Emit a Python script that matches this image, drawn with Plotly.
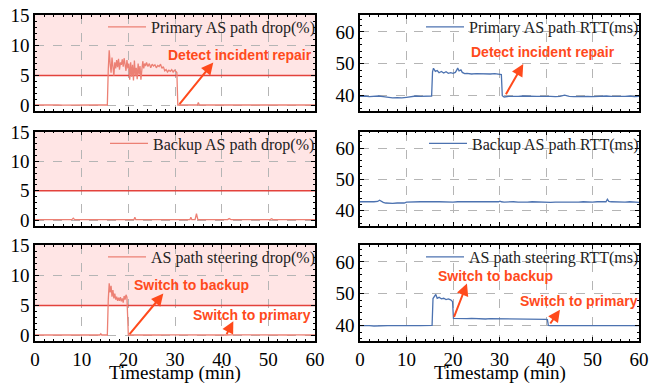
import plotly.graph_objects as go

W, H = 657, 383
SERIF = "Liberation Serif, Times New Roman, serif"
SANS = "Liberation Sans, Arial, sans-serif"
DROP_COLOR = "#EC8074"
RTT_COLOR = "#4C72B0"
ANNOT_COLOR = "#FF4A1C"
THRESH_COLOR = "#E3423C"
THRESHOLD = 5
T_RANGE = [0, 60]
X_TITLE = "Timestamp (min)"

# ---------------- data (minutes, values) ----------------
# Primary AS path drop (%)
pd_t = (list(range(0, 16)) + [15.5] +
        [15.7, 15.9, 16.1, 16.3, 16.5, 16.7, 16.9, 17.1, 17.3, 17.5, 17.7, 17.9, 18.1, 18.3,
         18.5, 18.7, 18.9, 19.1, 19.3, 19.5, 19.7, 19.9, 20.1, 20.3, 20.5, 20.7, 20.9, 21.1,
         21.3, 21.5, 21.7, 21.9, 22.1, 22.3, 22.5, 22.7, 22.9, 23.1, 23.3, 23.5, 23.7, 23.9] +
        [24.2, 24.5, 24.8, 25.1, 25.4, 25.7, 26.0, 26.3, 26.6, 26.9, 27.2, 27.5, 27.8, 28.1,
         28.4, 28.7, 29.0, 29.3, 29.6, 29.9, 30.2, 30.4] +
        [30.6, 31, 32, 33, 34, 34.8, 35.0, 35.2] + list(range(36, 61)))
pd_v = ([0.1, 0.12, 0.08, 0.1, 0.15, 0.1, 0.09, 0.11, 0.1, 0.13, 0.1, 0.08, 0.1, 0.12, 0.1, 0.1, 0.1] +
        [6.0, 9.2, 7.0, 5.5, 8.0, 6.5, 5.0, 7.2, 6.2, 7.6, 6.4, 7.8, 6.0, 7.2, 6.8, 7.7, 6.5, 7.9,
         7.0, 5.8, 7.6, 6.2, 7.0, 4.3, 7.2, 4.8, 6.8, 4.2, 7.5, 5.0, 6.3, 4.4, 7.0, 5.2, 6.6, 4.3,
         6.0, 7.4, 6.2, 7.0, 6.6, 7.2] +
        [6.5, 7.0, 6.3, 6.9, 6.6, 6.8, 6.3, 6.7, 6.5, 6.9, 6.2, 6.5, 5.8, 6.0, 5.6, 5.9, 5.7, 6.0,
         5.6, 5.9, 5.7, 5.5] +
        [0.1, 0.08, 0.1, 0.12, 0.1, 0.1, 0.5, 0.1] +
        [0.1, 0.12, 0.1, 0.08, 0.1, 0.11, 0.1, 0.13, 0.1, 0.1, 0.09, 0.1, 0.12, 0.1, 0.1, 0.08,
         0.1, 0.11, 0.1, 0.1, 0.12, 0.1, 0.09, 0.1, 0.1])

# Primary AS path RTT (ms)
pr_t = (list(range(0, 16)) + [15.4] +
        [15.6, 15.8, 16.2, 16.6, 17, 17.5, 18, 18.5, 19, 19.5, 20, 20.5, 20.8, 21.0, 21.3, 21.7,
         22, 22.5, 23, 24, 25, 26, 27, 28, 29, 30, 30.4] +
        [30.6, 31] + list(range(32, 61)))
pr_v = ([39.8, 39.9, 39.7, 39.8, 39.9, 39.7, 39.4, 39.3, 39.4, 39.3, 39.5, 39.8, 39.9, 39.8, 39.8,
         39.9, 39.9] +
        [47.5, 48.6, 47.6, 47.9, 47.2, 47.6, 47.1, 47.5, 47.0, 47.2, 47.0, 47.3, 48.0, 48.7, 47.8,
         48.1, 47.3, 46.9, 47.0, 46.8, 46.9, 46.8, 46.9, 46.8, 46.9, 46.7, 46.6] +
        [40.0, 39.6] +
        [39.8, 39.7, 39.8, 39.9, 39.8, 39.7, 39.8, 39.8, 39.9, 39.8, 39.7, 39.8, 40.2, 39.8, 39.7,
         39.8, 39.9, 39.8, 39.7, 39.8, 39.8, 39.9, 39.8, 39.7, 39.8, 39.8, 39.9, 39.7, 39.8])

# Backup AS path drop (%)
bd_t = (list(range(0, 8)) + [7.9, 8.2, 8.5] + list(range(9, 22)) + [21.2, 21.4, 21.6] +
        list(range(22, 34)) + [33.2, 33.4, 33.6, 34.3, 34.6, 34.9] + list(range(35, 42)) +
        [41.3, 41.6, 41.9] + list(range(42, 51)) + [50.4, 50.7, 51] + list(range(52, 61)))
bd_v = ([0.1, 0.08, 0.1, 0.1, 0.12, 0.1, 0.09, 0.1] + [0.1, 0.35, 0.1] +
        [0.1, 0.1, 0.08, 0.1, 0.1, 0.12, 0.1, 0.1, 0.09, 0.1, 0.1, 0.11, 0.1] + [0.1, 0.5, 0.1] +
        [0.1, 0.09, 0.1, 0.1, 0.12, 0.1, 0.1, 0.08, 0.1, 0.1, 0.1, 0.1] +
        [0.1, 0.5, 0.1, 0.1, 1.1, 0.1] + [0.1, 0.1, 0.09, 0.1, 0.1, 0.12, 0.1] + [0.1, 0.3, 0.1] +
        [0.1, 0.1, 0.1, 0.08, 0.1, 0.1, 0.11, 0.1, 0.1] + [0.1, 0.25, 0.1] +
        [0.1, 0.1, 0.09, 0.1, 0.1, 0.1, 0.12, 0.1, 0.1])

# Backup AS path RTT (ms)
br_t = (list(range(0, 4)) + [3.8, 4.2, 4.6] + [5, 5.5, 6, 7, 8, 9, 9.5] + list(range(10, 30)) +
        [29.8, 30.1, 30.4] + list(range(31, 53)) + [52.9, 53.2, 53.5] + list(range(54, 61)))
br_v = ([42.8, 42.7, 42.8, 42.8] + [42.9, 43.3, 42.8] + [42.6, 42.4, 42.3, 42.3, 42.4, 42.3, 42.4] +
        [42.7, 42.8, 42.7, 42.8, 42.8, 42.7, 42.8, 42.8, 42.7, 42.8, 42.7, 42.8, 42.8, 42.7, 42.8,
         42.8, 42.7, 42.8, 42.8, 42.7] + [42.8, 43.0, 42.8] +
        [42.7, 42.8, 42.8, 42.7, 42.6, 42.7, 42.8, 42.7, 42.8, 42.7, 42.6, 42.7, 42.8, 42.7, 42.7,
         42.6, 42.7, 42.8, 42.7, 42.7, 42.8, 42.7] + [42.8, 43.6, 42.9] +
        [42.8, 42.7, 42.8, 42.7, 42.8, 42.7, 42.6])

# AS path steering drop (%)
sd_t = (list(range(0, 14)) + [13.9, 14.1, 14.3, 15, 15.5] +
        [15.7, 15.9, 16.1, 16.3, 16.5, 16.7, 16.9, 17.1, 17.3, 17.5, 17.7, 17.9, 18.1, 18.3,
         18.5, 18.7, 18.9, 19.1, 19.3, 19.5, 19.7] +
        [19.85] + list(range(20, 61)))
sd_v = ([0.1, 0.1, 0.08, 0.1, 0.12, 0.1, 0.1, 0.09, 0.1, 0.1, 0.11, 0.1, 0.1, 0.1] +
        [0.1, 0.3, 0.1, 0.1, 0.1] +
        [6.0, 8.7, 7.2, 8.3, 6.5, 7.6, 6.2, 7.0, 6.0, 6.5, 5.8, 6.3, 5.8, 6.4, 5.7, 6.2, 5.5, 6.6,
         6.0, 6.8, 6.4] +
        [0.1] +
        [0.1, 0.1, 0.12, 0.1, 0.09, 0.1, 0.1, 0.1, 0.11, 0.1, 0.1, 0.08, 0.1, 0.1, 0.12, 0.1, 0.1,
         0.1, 0.09, 0.1, 0.1, 0.1, 0.11, 0.1, 0.1, 0.1, 0.08, 0.1, 0.1, 0.12, 0.1, 0.1, 0.1, 0.09,
         0.1, 0.1, 0.11, 0.1, 0.1, 0.1, 0.1])

# AS path steering RTT (ms)
sr_t = (list(range(0, 16)) + [15.5] +
        [15.7, 16.0, 16.3, 16.6, 17, 17.5, 18, 18.5, 19, 19.5, 19.9] +
        [20.1] + list(range(21, 41)) + [40.3, 40.5] + list(range(41, 61)))
sr_v = ([40.0, 40.1, 40.0, 39.9, 40.0, 40.1, 40.0, 40.0, 39.9, 40.0, 40.0, 40.1, 40.0, 40.0, 40.1,
         40.0] + [40.1] +
        [48.5, 49.2, 49.8, 48.6, 48.9, 48.4, 48.6, 48.2, 48.4, 48.1, 47.6] +
        [42.3] +
        [42.2, 42.3, 42.2, 42.3, 42.2, 42.2, 42.1, 42.2, 42.2, 42.1, 42.2, 42.1, 42.1, 42.0, 42.1,
         42.0, 42.1, 42.0, 42.0, 42.0] +
        [41.9, 40.1] +
        [40.0, 40.0, 40.1, 40.0, 39.9, 40.0, 40.0, 40.1, 40.0, 40.0, 40.0, 40.1, 40.0, 39.9, 40.0,
         40.0, 40.1, 40.0, 40.0, 40.0])

for a, b in [(pd_t, pd_v), (pr_t, pr_v), (bd_t, bd_v), (br_t, br_v), (sd_t, sd_v), (sr_t, sr_v)]:
    assert len(a) == len(b), (len(a), len(b))

series = [
    (pd_t, pd_v, "Primary AS path drop(%)", DROP_COLOR, 1),
    (pr_t, pr_v, "Primary AS path RTT(ms)", RTT_COLOR, 2),
    (bd_t, bd_v, "Backup AS path drop(%)", DROP_COLOR, 3),
    (br_t, br_v, "Backup AS path RTT(ms)", RTT_COLOR, 4),
    (sd_t, sd_v, "AS path steering drop(%)", DROP_COLOR, 5),
    (sr_t, sr_v, "AS path steering RTT(ms)", RTT_COLOR, 6),
]

# ---------------- layout geometry (pixels) ----------------
LEFT_PX = (35, 315)
RIGHT_PX = (360, 639)
ROWS = [(15, 111), (131.5, 225.5), (245, 341)]
DROP_RANGE = [-0.9, 15.1]
RTT_RANGE = [35.2, 65.3]


def ydom(top, bot):
    return [1 - bot / H, 1 - top / H]


fig = go.Figure()
layout = dict(
    width=W, height=H, autosize=False,
    margin=dict(l=0, r=0, t=0, b=0, autoexpand=False),
    paper_bgcolor="white", plot_bgcolor="white",
    showlegend=True,
    shapes=[], annotations=[],
)

axis_common = dict(
    showline=True, linecolor="black", linewidth=1.5, mirror="allticks",
    ticks="inside", ticklen=4, tickwidth=1, tickcolor="black",
    showgrid=True, gridcolor="#b5b5b5", griddash="dash", gridwidth=0.8,
    zeroline=False, automargin=False,
    tickfont=dict(family=SERIF, size=19, color="black"),
)

for (t, v, name, color, i) in series:
    row = (i - 1) // 2
    is_left = (i % 2 == 1)
    top, bot = ROWS[row]
    xs = "" if i == 1 else str(i)
    legname = "legend" if i == 1 else f"legend{i}"
    xpx = LEFT_PX if is_left else RIGHT_PX

    if is_left:
        # pink band above the threshold and the threshold line
        layout["shapes"].append(dict(
            type="rect", xref=f"x{xs} domain", yref="y" + xs, x0=0, x1=1,
            y0=THRESHOLD, y1=DROP_RANGE[1], fillcolor="rgba(255,0,0,0.1)",
            line=dict(width=0), layer="below"))
        fig.add_trace(go.Scatter(
            x=T_RANGE, y=[THRESHOLD, THRESHOLD], mode="lines", showlegend=False,
            line=dict(color=THRESH_COLOR, width=1.5), hoverinfo="skip",
            xaxis="x" + xs, yaxis="y" + xs))

    fig.add_trace(go.Scatter(
        x=t, y=v, mode="lines", name=name,
        line=dict(color=color, width=1.3),
        xaxis="x" + xs, yaxis="y" + xs, legend=legname,
    ))
    xa = dict(axis_common, domain=[xpx[0] / W, xpx[1] / W], anchor="y" + xs,
              range=T_RANGE, tick0=0, dtick=10,
              minor=dict(ticks="inside", ticklen=2, tickcolor="black", dtick=2, showgrid=False),
              showticklabels=(row == 2))
    ya = dict(axis_common, domain=ydom(top, bot), anchor="x" + xs)
    if is_left:
        ya.update(range=DROP_RANGE, tick0=0, dtick=5,
                  minor=dict(ticks="inside", ticklen=2, tickcolor="black", dtick=1, showgrid=False))
    else:
        ya.update(range=RTT_RANGE, tick0=0, dtick=10,
                  minor=dict(ticks="inside", ticklen=2, tickcolor="black", dtick=2, showgrid=False))
    layout["xaxis" + xs] = xa
    layout["yaxis" + xs] = ya

    layout[legname] = dict(
        x=(xpx[1] + 5) / W, xanchor="right", y=1 - (top - 5) / H, yanchor="top",
        bgcolor="rgba(0,0,0,0)", borderwidth=0,
        font=dict(family=SERIF, size=16, color="#222"),
        itemwidth=38, tracegroupgap=0,
    )

    if row == 2:
        layout["annotations"].append(dict(
            text=X_TITLE, x=(xpx[0] + xpx[1]) / 2 / W, y=1 - 373 / H,
            xref="paper", yref="paper", showarrow=False,
            xanchor="center", yanchor="middle",
            font=dict(family=SERIF, size=19, color="black")))

# ---------------- annotations ----------------
annot_font = dict(family=SANS, size=14, color=ANNOT_COLOR, weight="bold")
texts = [
    ("Detect incident repair", "", 44.0, 8.5),
    ("Detect incident repair", "2", 39.4, 53.6),
    ("Switch to backup", "5", 33.6, 8.4),
    ("Switch to primary", "5", 46.5, 3.4),
    ("Switch to backup", "6", 29.2, 55.6),
    ("Switch to primary", "6", 47.1, 47.7),
]
for txt, ax_s, x, y in texts:
    layout["annotations"].append(dict(
        text=txt, x=x, y=y, xref="x" + ax_s, yref="y" + ax_s,
        showarrow=False, font=annot_font, xanchor="center", yanchor="middle"))

arrows = [
    # (axis suffix, tail x, tail y, head x, head y)
    ("", 30.7, 0.0, 38.2, 7.2),
    ("2", 31.2, 40.0, 35.1, 49.9),
    ("5", 20.0, 0.0, 27.5, 7.0),
    ("5", 40.9, 0.0, 42.5, 2.4),
    ("6", 20.1, 42.3, 23.0, 53.2),
    ("6", 40.7, 40.2, 43.0, 45.0),
]
for ax_s, tx, ty, hx, hy in arrows:
    layout["annotations"].append(dict(
        text="", x=hx, y=hy, ax=tx, ay=ty, xref="x" + ax_s, yref="y" + ax_s,
        axref="x" + ax_s, ayref="y" + ax_s, showarrow=True, arrowhead=2,
        arrowsize=1.2, arrowwidth=2, arrowcolor=ANNOT_COLOR, standoff=0, startstandoff=0))

fig.update_layout(**layout)
fig.write_html(
    "out.html",
    config={"displayModeBar": False},
    post_script="document.body.style.margin='0';document.body.style.padding='0';"
                "document.body.style.overflow='hidden';",
)
